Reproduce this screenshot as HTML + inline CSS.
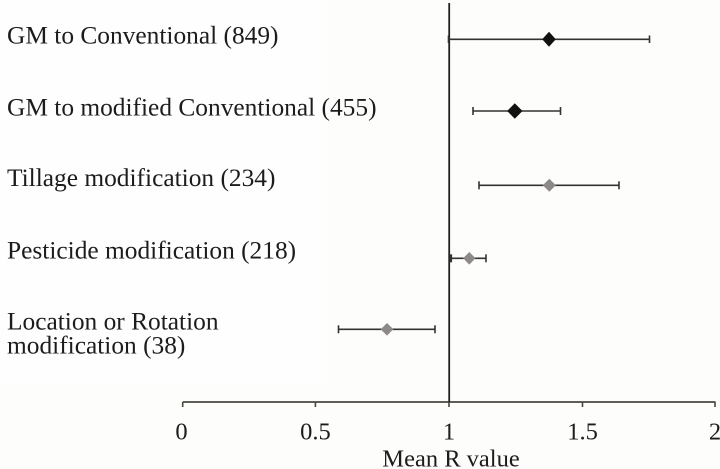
<!DOCTYPE html>
<html><head><meta charset="utf-8"><style>
html,body{margin:0;padding:0;background:#fdfdfb;}
svg{display:block;}
text{font-family:"Liberation Serif","Times New Roman",Times,"DejaVu Serif","Noto Serif CJK SC",serif;fill:#1c1c1c;}
</style></head><body>
<svg width="720" height="469" viewBox="0 0 720 469" xmlns="http://www.w3.org/2000/svg" font-family="'Liberation Serif', 'Times New Roman', Times, 'DejaVu Serif', 'Noto Serif CJK SC', serif">
<rect x="0" y="0" width="720" height="469" fill="#fdfdfb"/>
<rect x="0" y="0" width="328" height="384" fill="#fefefe"/>
<!-- category labels -->
<g font-size="25.4" font-family="'Liberation Serif', 'Times New Roman', Times, 'DejaVu Serif', 'Noto Serif CJK SC', serif">
<text x="7" y="43.5">GM to Conventional (849)</text>
<text x="7" y="115.5">GM to modified Conventional (455)</text>
<text x="7" y="186">Tillage modification (234)</text>
<text x="7" y="258.5">Pesticide modification (218)</text>
<text x="7" y="329.5">Location or Rotation</text>
<text x="7" y="353.5">modification (38)</text>
</g>
<!-- x axis -->
<line x1="182.7" y1="402" x2="715.5" y2="402" stroke="#4a4640" stroke-width="1.8"/>
<g stroke="#4a4640" stroke-width="1.6">
<line x1="182.7" y1="402" x2="182.7" y2="407"/>
<line x1="315.4" y1="402" x2="315.4" y2="407"/>
<line x1="449" y1="402" x2="449" y2="407"/>
<line x1="582.5" y1="402" x2="582.5" y2="407"/>
<line x1="715" y1="402" x2="715" y2="407"/>
</g>
<g font-size="24.5" text-anchor="middle" font-family="'Liberation Serif', 'Times New Roman', Times, 'DejaVu Serif', 'Noto Serif CJK SC', serif">
<text x="181.5" y="439.5">0</text>
<text x="315.4" y="439.5">0.5</text>
<text x="449" y="439.5">1</text>
<text x="582.5" y="439.5">1.5</text>
<text x="715" y="439.5">2</text>
</g>
<text x="451" y="466.5" font-size="24.5" text-anchor="middle" font-family="'Liberation Serif', 'Times New Roman', Times, 'DejaVu Serif', 'Noto Serif CJK SC', serif">Mean R value</text>
<!-- reference line at 1 -->
<line x1="449.2" y1="3" x2="449.2" y2="402" stroke="#222" stroke-width="1.8"/>
<!-- error bars -->
<g stroke="#333" stroke-width="1.6" fill="none">
<line x1="448.5" y1="39.3" x2="649.5" y2="39.3"/>
<line x1="448.5" y1="35.5" x2="448.5" y2="43"/>
<line x1="649.5" y1="35.5" x2="649.5" y2="43"/>

<line x1="473" y1="111" x2="560.5" y2="111"/>
<line x1="473" y1="107" x2="473" y2="115"/>
<line x1="560.5" y1="107" x2="560.5" y2="115"/>

<line x1="479" y1="185.3" x2="619" y2="185.3"/>
<line x1="479" y1="181.3" x2="479" y2="189.3"/>
<line x1="619" y1="181.3" x2="619" y2="189.3"/>

<line x1="451" y1="258.3" x2="486" y2="258.3"/>
<line x1="451" y1="254.3" x2="451" y2="262.3" stroke-width="2.2"/>
<line x1="486" y1="254.3" x2="486" y2="262.3"/>

<line x1="338.5" y1="329.3" x2="435" y2="329.3"/>
<line x1="338.5" y1="325.3" x2="338.5" y2="333.3"/>
<line x1="435" y1="325.3" x2="435" y2="333.3"/>
</g>
<!-- diamonds -->
<polygon points="549,31.8 555.8,39.3 549,46.8 542.2,39.3" fill="#111"/>
<polygon points="514.8,103.2 522.5,111 514.8,118.8 507.1,111" fill="#111"/>
<polygon points="549.3,178.8 555.8,185.3 549.3,191.8 542.8,185.3" fill="#8d8989"/>
<polygon points="469.3,252 475.5,258.3 469.3,264.6 463.1,258.3" fill="#8d8989"/>
<polygon points="387,323 393.3,329.3 387,335.6 380.7,329.3" fill="#8d8989"/>
</svg>
</body></html>
